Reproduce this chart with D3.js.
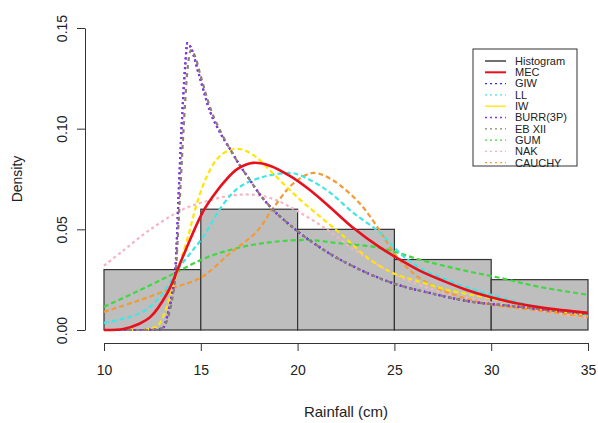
<!DOCTYPE html>
<html lang="en">
<head>
<meta charset="UTF-8">
<title>Rainfall density fits</title>
<script src="https://d3js.org/d3.v7.min.js"></script>
<style>
  body { margin: 0; background: #fff; }
  svg { display: block; font-family: "Liberation Sans", Arial, sans-serif; }
  .axis text { font-size: 14px; fill: #222; }
  .axis path, .axis line { stroke: #333; }
</style>
</head>
<body>
<div id="chart"></div>
<script>
// histogram (bin edges + density)
const binEdges = [10, 15, 20, 25, 30, 35];
const histDensity = [0.030, 0.060, 0.050, 0.035, 0.025];

const xTicks = [10, 15, 20, 25, 30, 35];
const yTicks = [0, 0.05, 0.10, 0.15];

// fitted curves, points: [rainfall, density]
const mec = [[10,0],[11,0.0005],[11.8,0.003],[12.4,0.0065],[13.25,0.018],[13.8,0.030],[14.45,0.045],[15.1,0.0585],[15.6,0.066],[16.2,0.0735],[16.9,0.080],[17.7,0.083],[18.6,0.0815],[19.6,0.0765],[20.5,0.0705],[21.5,0.0625],[22.9,0.0505],[24.25,0.041],[25.1,0.036],[26.3,0.0295],[27.5,0.0245],[28.7,0.020],[29.9,0.0165],[31.3,0.0133],[32.7,0.011],[35,0.0085]];
const giw = [[10,0],[12,0],[13.0,0.0005],[13.3,0.008],[13.5,0.017],[13.7,0.032],[13.85,0.066],[14.0,0.099],[14.2,0.132],[14.3,0.1425],[14.5,0.140],[14.9,0.127],[15.5,0.108],[16.0,0.098],[16.5,0.090],[17.0,0.082],[17.5,0.075],[18.0,0.068],[18.7,0.060],[19.5,0.053],[20.0,0.049],[21.0,0.042],[22.0,0.036],[23.0,0.031],[25.0,0.023],[27.0,0.018],[29.0,0.014],[31.0,0.012],[33.0,0.0098],[35.0,0.008]];
const ll = [[10,0.0035],[11.9,0.0085],[12.9,0.0165],[13.8,0.030],[14.45,0.038],[15.1,0.046],[16.2,0.063],[17.0,0.071],[18.2,0.076],[19.6,0.078],[20.1,0.077],[21.5,0.0695],[22.9,0.058],[24.3,0.048],[25.3,0.038],[26.3,0.031],[27.7,0.025],[29.8,0.018],[32.2,0.012],[35,0.0075]];
const iw = [[10,0],[11.9,0],[12.7,0.0015],[13.3,0.013],[13.8,0.030],[14.3,0.045],[14.8,0.063],[15.5,0.080],[16.2,0.088],[16.9,0.0900],[17.7,0.087],[18.6,0.079],[19.6,0.0695],[20.1,0.065],[21.2,0.056],[22.2,0.048],[23.6,0.036],[25,0.028],[26.3,0.024],[27.7,0.020],[29.8,0.016],[32.2,0.0115],[35,0.0075]];
const burr = [[10,0],[12,0],[13.0,0.0005],[13.3,0.008],[13.5,0.017],[13.7,0.032],[13.85,0.066],[14.0,0.099],[14.2,0.132],[14.3,0.1425],[14.5,0.140],[14.9,0.127],[15.5,0.108],[16.0,0.098],[16.5,0.090],[17.0,0.082],[17.5,0.075],[18.0,0.068],[18.7,0.060],[19.5,0.053],[20.0,0.049],[21.0,0.042],[22.0,0.036],[23.0,0.031],[25.0,0.023],[27.0,0.018],[29.0,0.014],[31.0,0.012],[33.0,0.0098],[35.0,0.008]];
const ebxii = [[10,0],[12.2,0],[13.0,0.001],[13.3,0.006],[13.5,0.014],[13.7,0.028],[13.9,0.062],[14.1,0.098],[14.3,0.128],[14.5,0.139],[14.7,0.136],[15.0,0.126],[15.5,0.110],[16.0,0.099],[16.5,0.090],[17.0,0.082],[17.5,0.075],[18.0,0.068],[18.7,0.060],[19.5,0.053],[20.0,0.049],[21.0,0.042],[22.0,0.036],[23.0,0.031],[25.0,0.023],[27.0,0.018],[29.0,0.014],[31.0,0.012],[33.0,0.0098],[35.0,0.008]];
const gum = [[10,0.0115],[11.9,0.020],[13.6,0.028],[15.3,0.036],[17.0,0.041],[18.7,0.0437],[20.5,0.0447],[22.2,0.043],[24.3,0.0407],[26.3,0.035],[28.4,0.030],[30.5,0.0258],[32.5,0.0214],[35,0.0175]];
const nak = [[10,0.032],[11,0.0395],[12.4,0.050],[14.1,0.060],[15.5,0.0645],[16.7,0.067],[17.9,0.067],[18.9,0.0645],[20.0,0.059],[21.5,0.050],[22.9,0.040],[24.3,0.0315],[25.6,0.025],[27.4,0.019],[29.8,0.014],[32.2,0.010],[35,0.006]];
const cauchy = [[10,0.009],[11.9,0.015],[13.6,0.021],[15,0.026],[16.5,0.038],[17.9,0.049],[18.7,0.060],[19.8,0.073],[20.8,0.078],[21.8,0.0745],[23.2,0.063],[24.2,0.050],[25.0,0.038],[26.0,0.028],[27.4,0.020],[29.8,0.013],[32.2,0.010],[35,0.0065]];

const legendNames = ["Histogram", "MEC", "GIW", "LL", "IW", "BURR(3P)", "EB XII", "GUM", "NAK", "CAUCHY"];
const legendColors = ["#222", "#e8101c", "#2a2aff", "#40e6e6", "#ffe600", "#9030e0", "#8c8070", "#40d840", "#f4b4c4", "#f29a34"];
const legendDash = [null, null, "2,3", "2,3", null, "2,3", "2,3", "2,3", "2,3", "2,3"];

const W = 598, H = 423;
const svg = d3.select("#chart").append("svg").attr("width", W).attr("height", H);
svg.append("rect").attr("width", W).attr("height", H).attr("fill", "#fff");

const x = d3.scaleLinear().domain([10, 35]).range([104, 588]);
const y = d3.scaleLinear().domain([0, 0.15]).range([330, 28]);

// histogram bars
svg.selectAll(".bar")
  .data(histDensity)
  .enter().append("rect")
  .attr("class", "bar")
  .attr("x", (d, i) => x(binEdges[i]))
  .attr("width", (d, i) => x(binEdges[i + 1]) - x(binEdges[i]))
  .attr("y", d => y(d))
  .attr("height", d => y(0) - y(d))
  .attr("fill", "#bebebe")
  .attr("stroke", "#333")
  .attr("stroke-width", 1.2);

const smooth = d3.line()
  .x(d => x(d[0]))
  .y(d => y(d[1]))
  .curve(d3.curveCatmullRom.alpha(0.5));

// sharp-peaked fits: monotone so the spike doesn't overshoot
const sharp = d3.line()
  .x(d => x(d[0]))
  .y(d => y(d[1]))
  .curve(d3.curveMonotoneX);

// draw order: dashed fits first, MEC on top
const curves = [
  { data: gum, color: legendColors[7], dash: "5,3", gen: smooth },
  { data: nak, color: legendColors[8], dash: "3,3", gen: smooth },
  { data: cauchy, color: legendColors[9], dash: "5,3", gen: smooth },
  { data: ll, color: legendColors[3], dash: "5,3", gen: smooth },
  { data: iw, color: legendColors[4], dash: "5,3", gen: sharp },
  { data: giw, color: legendColors[2], dash: "2,3", gen: sharp },
  { data: burr, color: legendColors[5], dash: "2,3", gen: sharp },
  { data: ebxii, color: legendColors[6], dash: "4,4", gen: sharp },
  { data: mec, color: legendColors[1], dash: null, width: 2.6, gen: smooth }
];

curves.forEach(c => {
  svg.append("path")
    .datum(c.data)
    .attr("d", c.gen)
    .attr("fill", "none")
    .attr("stroke", c.color)
    .attr("stroke-width", c.width || 2.2)
    .attr("stroke-dasharray", c.dash);
});

// axes
const xAxis = d3.axisBottom(x).tickValues(xTicks).tickSize(8).tickSizeOuter(0).tickPadding(14);
svg.append("g").attr("class", "axis")
  .attr("transform", "translate(0,343)")
  .call(xAxis);

const yAxis = d3.axisLeft(y).tickValues(yTicks).tickSize(8).tickSizeOuter(0)
  .tickFormat(d3.format(".2f"));
svg.append("g").attr("class", "axis")
  .attr("transform", "translate(85,0)")
  .call(yAxis)
  .selectAll("text")
  .attr("x", 0).attr("dy", 0)
  .attr("text-anchor", "middle")
  .attr("transform", "translate(-18,0) rotate(-90)");

svg.selectAll(".axis .domain").attr("stroke", "#333");

// titles
svg.append("text")
  .attr("x", x(22.5)).attr("y", 417)
  .attr("text-anchor", "middle")
  .attr("font-size", 15).attr("fill", "#222")
  .text("Rainfall (cm)");

svg.append("text")
  .attr("transform", "translate(22,179) rotate(-90)")
  .attr("text-anchor", "middle")
  .attr("font-size", 14).attr("fill", "#222")
  .text("Density");

// legend
const lg = svg.append("g");
lg.append("rect")
  .attr("x", 473).attr("y", 49)
  .attr("width", 104).attr("height", 117)
  .attr("fill", "#fff").attr("stroke", "#333").attr("stroke-width", 1);

legendNames.forEach((name, i) => {
  const yy = 61 + i * 11.3;
  lg.append("line")
    .attr("x1", 485).attr("x2", 506)
    .attr("y1", yy).attr("y2", yy)
    .attr("stroke", legendColors[i])
    .attr("stroke-width", i === 1 ? 2 : 1.3)
    .attr("stroke-dasharray", legendDash[i]);
  lg.append("text")
    .attr("x", 515).attr("y", yy)
    .attr("dy", "0.35em")
    .attr("font-size", 11).attr("fill", "#222")
    .text(name);
});
</script>
</body>
</html>
